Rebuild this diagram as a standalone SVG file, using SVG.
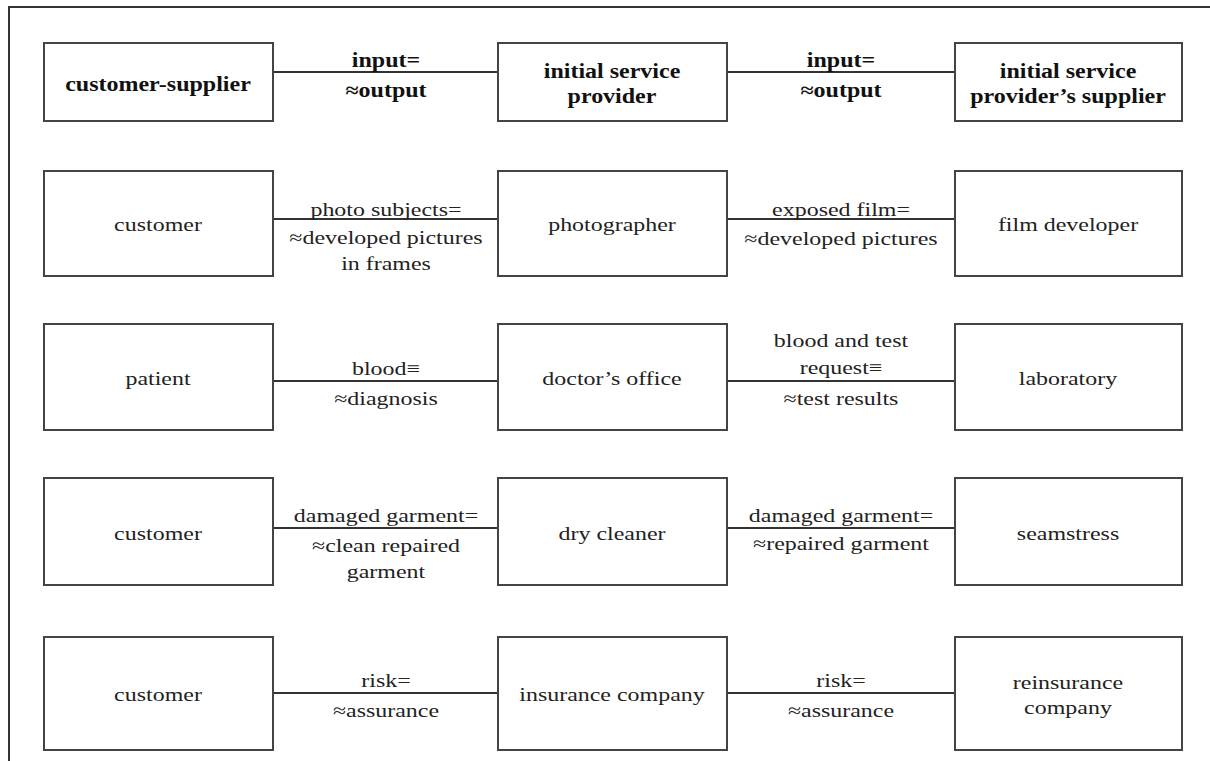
<svg xmlns="http://www.w3.org/2000/svg" width="1210" height="761" viewBox="0 0 1210 761">
<style>
.box{fill:#fff;stroke:#444;stroke-width:2}
.ln{stroke:#333;stroke-width:2;fill:none}
.t{font-family:"Liberation Serif","Times New Roman",serif;font-size:19px;fill:#222;text-anchor:middle}
.b{font-family:"Liberation Serif","Times New Roman",serif;font-size:20px;font-weight:bold;fill:#111;text-anchor:middle}
</style>
<rect width="1210" height="761" fill="#fff"/>
<g id="frame"><path class="ln" d="M9,761 V7 H1210"/></g>
<g id="connectors">
<line class="ln" x1="273" y1="72" x2="498" y2="72"/>
<line class="ln" x1="727" y1="72" x2="955" y2="72"/>
<line class="ln" x1="273" y1="219" x2="498" y2="219"/>
<line class="ln" x1="727" y1="219" x2="955" y2="219"/>
<line class="ln" x1="273" y1="381" x2="498" y2="381"/>
<line class="ln" x1="727" y1="381" x2="955" y2="381"/>
<line class="ln" x1="273" y1="528" x2="498" y2="528"/>
<line class="ln" x1="727" y1="528" x2="955" y2="528"/>
<line class="ln" x1="273" y1="693" x2="498" y2="693"/>
<line class="ln" x1="727" y1="693" x2="955" y2="693"/>
</g>
<g id="labels">
<text class="b" transform="translate(386,67) scale(1.2,1)"><tspan x="0">input=</tspan><tspan x="0" dy="30">≈output</tspan></text>
<text class="b" transform="translate(841,67) scale(1.2,1)"><tspan x="0">input=</tspan><tspan x="0" dy="30">≈output</tspan></text>
<text class="t" transform="translate(386,216) scale(1.26,1)"><tspan x="0">photo subjects=</tspan><tspan x="0" dy="28">≈developed pictures</tspan><tspan x="0" dy="26">in frames</tspan></text>
<text class="t" transform="translate(841,216) scale(1.26,1)"><tspan x="0">exposed film=</tspan><tspan x="0" dy="29">≈developed pictures</tspan></text>
<text class="t" transform="translate(386,375) scale(1.26,1)"><tspan x="0">blood≡</tspan><tspan x="0" dy="30">≈diagnosis</tspan></text>
<text class="t" transform="translate(841,347) scale(1.26,1)"><tspan x="0">blood and test</tspan><tspan x="0" dy="27">request≡</tspan><tspan x="0" dy="31">≈test results</tspan></text>
<text class="t" transform="translate(386,522) scale(1.26,1)"><tspan x="0">damaged garment=</tspan><tspan x="0" dy="30">≈clean repaired</tspan><tspan x="0" dy="26">garment</tspan></text>
<text class="t" transform="translate(841,522) scale(1.26,1)"><tspan x="0">damaged garment=</tspan><tspan x="0" dy="28">≈repaired garment</tspan></text>
<text class="t" transform="translate(386,687) scale(1.26,1)"><tspan x="0">risk=</tspan><tspan x="0" dy="30">≈assurance</tspan></text>
<text class="t" transform="translate(841,687) scale(1.26,1)"><tspan x="0">risk=</tspan><tspan x="0" dy="30">≈assurance</tspan></text>
</g>
<g id="n1"><rect class="box" x="44" y="43" width="229" height="78"/><text class="b" transform="translate(158,91) scale(1.2,1)">customer-supplier</text></g>
<g id="n2"><rect class="box" x="498" y="43" width="229" height="78"/><text class="b" transform="translate(612,78) scale(1.2,1)"><tspan x="0">initial service</tspan><tspan x="0" dy="25">provider</tspan></text></g>
<g id="n3"><rect class="box" x="955" y="43" width="227" height="78"/><text class="b" transform="translate(1068,78) scale(1.2,1)"><tspan x="0">initial service</tspan><tspan x="0" dy="25">provider’s supplier</tspan></text></g>
<g id="n4"><rect class="box" x="44" y="171" width="229" height="105"/><text class="t" transform="translate(158,231) scale(1.26,1)">customer</text></g>
<g id="n5"><rect class="box" x="498" y="171" width="229" height="105"/><text class="t" transform="translate(612,231) scale(1.26,1)">photographer</text></g>
<g id="n6"><rect class="box" x="955" y="171" width="227" height="105"/><text class="t" transform="translate(1068,231) scale(1.26,1)">film developer</text></g>
<g id="n7"><rect class="box" x="44" y="324" width="229" height="106"/><text class="t" transform="translate(158,385) scale(1.26,1)">patient</text></g>
<g id="n8"><rect class="box" x="498" y="324" width="229" height="106"/><text class="t" transform="translate(612,385) scale(1.26,1)">doctor’s office</text></g>
<g id="n9"><rect class="box" x="955" y="324" width="227" height="106"/><text class="t" transform="translate(1068,385) scale(1.26,1)">laboratory</text></g>
<g id="n10"><rect class="box" x="44" y="478" width="229" height="107"/><text class="t" transform="translate(158,540) scale(1.26,1)">customer</text></g>
<g id="n11"><rect class="box" x="498" y="478" width="229" height="107"/><text class="t" transform="translate(612,540) scale(1.26,1)">dry cleaner</text></g>
<g id="n12"><rect class="box" x="955" y="478" width="227" height="107"/><text class="t" transform="translate(1068,540) scale(1.26,1)">seamstress</text></g>
<g id="n13"><rect class="box" x="44" y="637" width="229" height="113"/><text class="t" transform="translate(158,701) scale(1.26,1)">customer</text></g>
<g id="n14"><rect class="box" x="498" y="637" width="229" height="113"/><text class="t" transform="translate(612,701) scale(1.26,1)">insurance company</text></g>
<g id="n15"><rect class="box" x="955" y="637" width="227" height="113"/><text class="t" transform="translate(1068,689) scale(1.26,1)"><tspan x="0">reinsurance</tspan><tspan x="0" dy="25">company</tspan></text></g>
</svg>
